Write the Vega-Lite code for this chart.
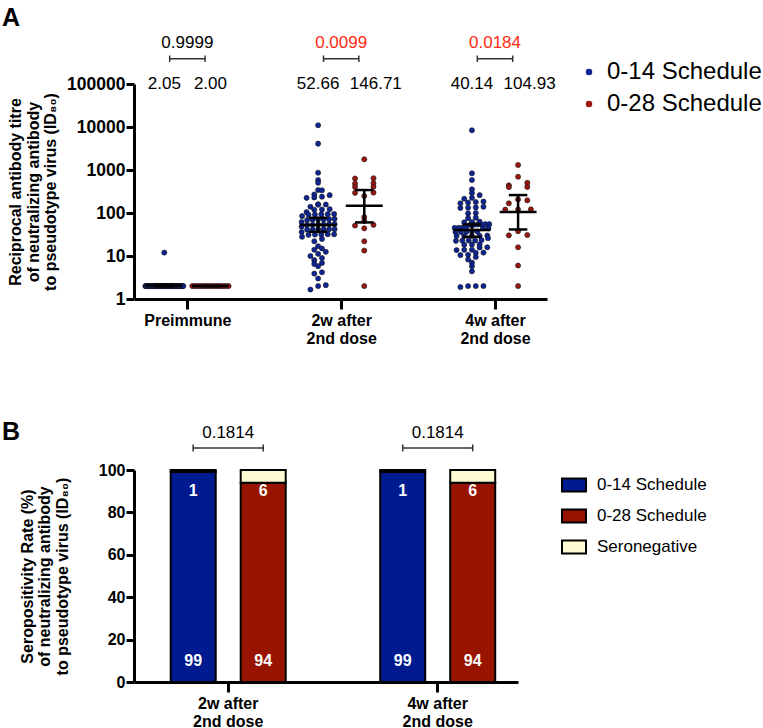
{
  "$schema": "https://vega.github.io/schema/vega-lite/v6.json",
  "padding": {"left": 2, "top": 5, "right": 0, "bottom": 0},
  "background": "white",
  "config": {
    "view": {"stroke": null},
    "font": "Liberation Sans",
    "axis": {"domainColor": "black", "domainWidth": 3, "tickColor": "black", "tickWidth": 3, "grid": false, "labelColor": "black", "labelFont": "Liberation Sans", "labelFontWeight": "bold", "titleColor": "black", "titleFont": "Liberation Sans", "titleFontWeight": "bold"},
    "legend": {"labelFont": "Liberation Sans", "labelColor": "black", "padding": 0, "labelLimit": 400}
  },
  "datasets": {
    "titres": [
      {"time": "Preimmune", "schedule": "0-14 Schedule", "titre": 12},
      {"time": "Preimmune", "schedule": "0-14 Schedule", "titre": 2},{"time": "Preimmune", "schedule": "0-14 Schedule", "titre": 2},{"time": "Preimmune", "schedule": "0-14 Schedule", "titre": 2},{"time": "Preimmune", "schedule": "0-14 Schedule", "titre": 2},{"time": "Preimmune", "schedule": "0-14 Schedule", "titre": 2},{"time": "Preimmune", "schedule": "0-14 Schedule", "titre": 2},{"time": "Preimmune", "schedule": "0-14 Schedule", "titre": 2},{"time": "Preimmune", "schedule": "0-14 Schedule", "titre": 2},{"time": "Preimmune", "schedule": "0-14 Schedule", "titre": 2},{"time": "Preimmune", "schedule": "0-14 Schedule", "titre": 2},
      {"time": "Preimmune", "schedule": "0-14 Schedule", "titre": 2},{"time": "Preimmune", "schedule": "0-14 Schedule", "titre": 2},{"time": "Preimmune", "schedule": "0-14 Schedule", "titre": 2},{"time": "Preimmune", "schedule": "0-14 Schedule", "titre": 2},{"time": "Preimmune", "schedule": "0-14 Schedule", "titre": 2},{"time": "Preimmune", "schedule": "0-14 Schedule", "titre": 2},{"time": "Preimmune", "schedule": "0-14 Schedule", "titre": 2},{"time": "Preimmune", "schedule": "0-14 Schedule", "titre": 2},{"time": "Preimmune", "schedule": "0-14 Schedule", "titre": 2},{"time": "Preimmune", "schedule": "0-14 Schedule", "titre": 2},
      {"time": "Preimmune", "schedule": "0-14 Schedule", "titre": 2},{"time": "Preimmune", "schedule": "0-14 Schedule", "titre": 2},{"time": "Preimmune", "schedule": "0-14 Schedule", "titre": 2},{"time": "Preimmune", "schedule": "0-14 Schedule", "titre": 2},{"time": "Preimmune", "schedule": "0-14 Schedule", "titre": 2},{"time": "Preimmune", "schedule": "0-14 Schedule", "titre": 2},{"time": "Preimmune", "schedule": "0-14 Schedule", "titre": 2},{"time": "Preimmune", "schedule": "0-14 Schedule", "titre": 2},{"time": "Preimmune", "schedule": "0-14 Schedule", "titre": 2},{"time": "Preimmune", "schedule": "0-14 Schedule", "titre": 2},
      {"time": "Preimmune", "schedule": "0-14 Schedule", "titre": 2},{"time": "Preimmune", "schedule": "0-14 Schedule", "titre": 2},{"time": "Preimmune", "schedule": "0-14 Schedule", "titre": 2},{"time": "Preimmune", "schedule": "0-14 Schedule", "titre": 2},{"time": "Preimmune", "schedule": "0-14 Schedule", "titre": 2},{"time": "Preimmune", "schedule": "0-14 Schedule", "titre": 2},{"time": "Preimmune", "schedule": "0-14 Schedule", "titre": 2},{"time": "Preimmune", "schedule": "0-14 Schedule", "titre": 2},{"time": "Preimmune", "schedule": "0-14 Schedule", "titre": 2},{"time": "Preimmune", "schedule": "0-14 Schedule", "titre": 2},
      {"time": "Preimmune", "schedule": "0-14 Schedule", "titre": 2},{"time": "Preimmune", "schedule": "0-14 Schedule", "titre": 2},{"time": "Preimmune", "schedule": "0-14 Schedule", "titre": 2},{"time": "Preimmune", "schedule": "0-14 Schedule", "titre": 2},{"time": "Preimmune", "schedule": "0-14 Schedule", "titre": 2},{"time": "Preimmune", "schedule": "0-14 Schedule", "titre": 2},{"time": "Preimmune", "schedule": "0-14 Schedule", "titre": 2},{"time": "Preimmune", "schedule": "0-14 Schedule", "titre": 2},{"time": "Preimmune", "schedule": "0-14 Schedule", "titre": 2},{"time": "Preimmune", "schedule": "0-14 Schedule", "titre": 2},
      {"time": "Preimmune", "schedule": "0-14 Schedule", "titre": 2},{"time": "Preimmune", "schedule": "0-14 Schedule", "titre": 2},{"time": "Preimmune", "schedule": "0-14 Schedule", "titre": 2},{"time": "Preimmune", "schedule": "0-14 Schedule", "titre": 2},{"time": "Preimmune", "schedule": "0-14 Schedule", "titre": 2},{"time": "Preimmune", "schedule": "0-14 Schedule", "titre": 2},{"time": "Preimmune", "schedule": "0-14 Schedule", "titre": 2},{"time": "Preimmune", "schedule": "0-14 Schedule", "titre": 2},{"time": "Preimmune", "schedule": "0-14 Schedule", "titre": 2},{"time": "Preimmune", "schedule": "0-14 Schedule", "titre": 2},
      {"time": "Preimmune", "schedule": "0-14 Schedule", "titre": 2},{"time": "Preimmune", "schedule": "0-14 Schedule", "titre": 2},{"time": "Preimmune", "schedule": "0-14 Schedule", "titre": 2},{"time": "Preimmune", "schedule": "0-14 Schedule", "titre": 2},{"time": "Preimmune", "schedule": "0-14 Schedule", "titre": 2},{"time": "Preimmune", "schedule": "0-14 Schedule", "titre": 2},{"time": "Preimmune", "schedule": "0-14 Schedule", "titre": 2},{"time": "Preimmune", "schedule": "0-14 Schedule", "titre": 2},{"time": "Preimmune", "schedule": "0-14 Schedule", "titre": 2},{"time": "Preimmune", "schedule": "0-14 Schedule", "titre": 2},
      {"time": "Preimmune", "schedule": "0-14 Schedule", "titre": 2},
      {"time": "Preimmune", "schedule": "0-28 Schedule", "titre": 2},{"time": "Preimmune", "schedule": "0-28 Schedule", "titre": 2},{"time": "Preimmune", "schedule": "0-28 Schedule", "titre": 2},{"time": "Preimmune", "schedule": "0-28 Schedule", "titre": 2},{"time": "Preimmune", "schedule": "0-28 Schedule", "titre": 2},{"time": "Preimmune", "schedule": "0-28 Schedule", "titre": 2},
      {"time": "Preimmune", "schedule": "0-28 Schedule", "titre": 2},{"time": "Preimmune", "schedule": "0-28 Schedule", "titre": 2},{"time": "Preimmune", "schedule": "0-28 Schedule", "titre": 2},{"time": "Preimmune", "schedule": "0-28 Schedule", "titre": 2},{"time": "Preimmune", "schedule": "0-28 Schedule", "titre": 2},{"time": "Preimmune", "schedule": "0-28 Schedule", "titre": 2},
      {"time": "Preimmune", "schedule": "0-28 Schedule", "titre": 2},{"time": "Preimmune", "schedule": "0-28 Schedule", "titre": 2},{"time": "Preimmune", "schedule": "0-28 Schedule", "titre": 2},{"time": "Preimmune", "schedule": "0-28 Schedule", "titre": 2},{"time": "Preimmune", "schedule": "0-28 Schedule", "titre": 2},{"time": "Preimmune", "schedule": "0-28 Schedule", "titre": 2},
      {"time": "2w", "schedule": "0-14 Schedule", "titre": 11000},{"time": "2w", "schedule": "0-14 Schedule", "titre": 4100},{"time": "2w", "schedule": "0-14 Schedule", "titre": 865},{"time": "2w", "schedule": "0-14 Schedule", "titre": 585},{"time": "2w", "schedule": "0-14 Schedule", "titre": 505},{"time": "2w", "schedule": "0-14 Schedule", "titre": 342},{"time": "2w", "schedule": "0-14 Schedule", "titre": 338},{"time": "2w", "schedule": "0-14 Schedule", "titre": 270},{"time": "2w", "schedule": "0-14 Schedule", "titre": 260},{"time": "2w", "schedule": "0-14 Schedule", "titre": 240},{"time": "2w", "schedule": "0-14 Schedule", "titre": 230},{"time": "2w", "schedule": "0-14 Schedule", "titre": 225},
      {"time": "2w", "schedule": "0-14 Schedule", "titre": 160},{"time": "2w", "schedule": "0-14 Schedule", "titre": 158},{"time": "2w", "schedule": "0-14 Schedule", "titre": 156},{"time": "2w", "schedule": "0-14 Schedule", "titre": 140},{"time": "2w", "schedule": "0-14 Schedule", "titre": 123},{"time": "2w", "schedule": "0-14 Schedule", "titre": 121},{"time": "2w", "schedule": "0-14 Schedule", "titre": 119},{"time": "2w", "schedule": "0-14 Schedule", "titre": 105},{"time": "2w", "schedule": "0-14 Schedule", "titre": 95},{"time": "2w", "schedule": "0-14 Schedule", "titre": 94},{"time": "2w", "schedule": "0-14 Schedule", "titre": 93},{"time": "2w", "schedule": "0-14 Schedule", "titre": 92},{"time": "2w", "schedule": "0-14 Schedule", "titre": 91},{"time": "2w", "schedule": "0-14 Schedule", "titre": 85},
      {"time": "2w", "schedule": "0-14 Schedule", "titre": 73},{"time": "2w", "schedule": "0-14 Schedule", "titre": 72},{"time": "2w", "schedule": "0-14 Schedule", "titre": 71},{"time": "2w", "schedule": "0-14 Schedule", "titre": 71},{"time": "2w", "schedule": "0-14 Schedule", "titre": 70},{"time": "2w", "schedule": "0-14 Schedule", "titre": 69},{"time": "2w", "schedule": "0-14 Schedule", "titre": 62},
      {"time": "2w", "schedule": "0-14 Schedule", "titre": 55},{"time": "2w", "schedule": "0-14 Schedule", "titre": 55},{"time": "2w", "schedule": "0-14 Schedule", "titre": 54},{"time": "2w", "schedule": "0-14 Schedule", "titre": 54},{"time": "2w", "schedule": "0-14 Schedule", "titre": 53},{"time": "2w", "schedule": "0-14 Schedule", "titre": 53},{"time": "2w", "schedule": "0-14 Schedule", "titre": 48},
      {"time": "2w", "schedule": "0-14 Schedule", "titre": 42},{"time": "2w", "schedule": "0-14 Schedule", "titre": 42},{"time": "2w", "schedule": "0-14 Schedule", "titre": 41.5},{"time": "2w", "schedule": "0-14 Schedule", "titre": 41.5},{"time": "2w", "schedule": "0-14 Schedule", "titre": 41},{"time": "2w", "schedule": "0-14 Schedule", "titre": 41},{"time": "2w", "schedule": "0-14 Schedule", "titre": 36},
      {"time": "2w", "schedule": "0-14 Schedule", "titre": 32},{"time": "2w", "schedule": "0-14 Schedule", "titre": 32},{"time": "2w", "schedule": "0-14 Schedule", "titre": 31.7},{"time": "2w", "schedule": "0-14 Schedule", "titre": 31.5},{"time": "2w", "schedule": "0-14 Schedule", "titre": 31},{"time": "2w", "schedule": "0-14 Schedule", "titre": 28},{"time": "2w", "schedule": "0-14 Schedule", "titre": 25},{"time": "2w", "schedule": "0-14 Schedule", "titre": 22},
      {"time": "2w", "schedule": "0-14 Schedule", "titre": 16.9},{"time": "2w", "schedule": "0-14 Schedule", "titre": 15},{"time": "2w", "schedule": "0-14 Schedule", "titre": 14},{"time": "2w", "schedule": "0-14 Schedule", "titre": 12.5},{"time": "2w", "schedule": "0-14 Schedule", "titre": 11.2},{"time": "2w", "schedule": "0-14 Schedule", "titre": 10},{"time": "2w", "schedule": "0-14 Schedule", "titre": 9},{"time": "2w", "schedule": "0-14 Schedule", "titre": 8},{"time": "2w", "schedule": "0-14 Schedule", "titre": 6.9},{"time": "2w", "schedule": "0-14 Schedule", "titre": 6.5},{"time": "2w", "schedule": "0-14 Schedule", "titre": 5.8},{"time": "2w", "schedule": "0-14 Schedule", "titre": 4.2},{"time": "2w", "schedule": "0-14 Schedule", "titre": 3.9},{"time": "2w", "schedule": "0-14 Schedule", "titre": 3},{"time": "2w", "schedule": "0-14 Schedule", "titre": 2.1},{"time": "2w", "schedule": "0-14 Schedule", "titre": 2},{"time": "2w", "schedule": "0-14 Schedule", "titre": 1.66},
      {"time": "2w", "schedule": "0-28 Schedule", "titre": 1775},{"time": "2w", "schedule": "0-28 Schedule", "titre": 645},{"time": "2w", "schedule": "0-28 Schedule", "titre": 635},{"time": "2w", "schedule": "0-28 Schedule", "titre": 495},{"time": "2w", "schedule": "0-28 Schedule", "titre": 485},{"time": "2w", "schedule": "0-28 Schedule", "titre": 410},{"time": "2w", "schedule": "0-28 Schedule", "titre": 405},{"time": "2w", "schedule": "0-28 Schedule", "titre": 298},{"time": "2w", "schedule": "0-28 Schedule", "titre": 294},
      {"time": "2w", "schedule": "0-28 Schedule", "titre": 248},{"time": "2w", "schedule": "0-28 Schedule", "titre": 80},{"time": "2w", "schedule": "0-28 Schedule", "titre": 65},{"time": "2w", "schedule": "0-28 Schedule", "titre": 53},{"time": "2w", "schedule": "0-28 Schedule", "titre": 51},{"time": "2w", "schedule": "0-28 Schedule", "titre": 44},{"time": "2w", "schedule": "0-28 Schedule", "titre": 22},{"time": "2w", "schedule": "0-28 Schedule", "titre": 13.4},{"time": "2w", "schedule": "0-28 Schedule", "titre": 2},
      {"time": "4w", "schedule": "0-14 Schedule", "titre": 8400},{"time": "4w", "schedule": "0-14 Schedule", "titre": 838},{"time": "4w", "schedule": "0-14 Schedule", "titre": 585},{"time": "4w", "schedule": "0-14 Schedule", "titre": 355},{"time": "4w", "schedule": "0-14 Schedule", "titre": 290},{"time": "4w", "schedule": "0-14 Schedule", "titre": 260},{"time": "4w", "schedule": "0-14 Schedule", "titre": 225},{"time": "4w", "schedule": "0-14 Schedule", "titre": 215},{"time": "4w", "schedule": "0-14 Schedule", "titre": 185},{"time": "4w", "schedule": "0-14 Schedule", "titre": 180},{"time": "4w", "schedule": "0-14 Schedule", "titre": 175},{"time": "4w", "schedule": "0-14 Schedule", "titre": 140},{"time": "4w", "schedule": "0-14 Schedule", "titre": 135},
      {"time": "4w", "schedule": "0-14 Schedule", "titre": 168},{"time": "4w", "schedule": "0-14 Schedule", "titre": 133},{"time": "4w", "schedule": "0-14 Schedule", "titre": 131},{"time": "4w", "schedule": "0-14 Schedule", "titre": 100},{"time": "4w", "schedule": "0-14 Schedule", "titre": 98},{"time": "4w", "schedule": "0-14 Schedule", "titre": 78},{"time": "4w", "schedule": "0-14 Schedule", "titre": 76},{"time": "4w", "schedule": "0-14 Schedule", "titre": 63},{"time": "4w", "schedule": "0-14 Schedule", "titre": 62},{"time": "4w", "schedule": "0-14 Schedule", "titre": 61},
      {"time": "4w", "schedule": "0-14 Schedule", "titre": 55},{"time": "4w", "schedule": "0-14 Schedule", "titre": 55},{"time": "4w", "schedule": "0-14 Schedule", "titre": 54},{"time": "4w", "schedule": "0-14 Schedule", "titre": 54},{"time": "4w", "schedule": "0-14 Schedule", "titre": 53},{"time": "4w", "schedule": "0-14 Schedule", "titre": 53},
      {"time": "4w", "schedule": "0-14 Schedule", "titre": 46},{"time": "4w", "schedule": "0-14 Schedule", "titre": 46},{"time": "4w", "schedule": "0-14 Schedule", "titre": 45},{"time": "4w", "schedule": "0-14 Schedule", "titre": 45},{"time": "4w", "schedule": "0-14 Schedule", "titre": 44},{"time": "4w", "schedule": "0-14 Schedule", "titre": 44},
      {"time": "4w", "schedule": "0-14 Schedule", "titre": 37},{"time": "4w", "schedule": "0-14 Schedule", "titre": 37},{"time": "4w", "schedule": "0-14 Schedule", "titre": 36.5},{"time": "4w", "schedule": "0-14 Schedule", "titre": 36},{"time": "4w", "schedule": "0-14 Schedule", "titre": 36},
      {"time": "4w", "schedule": "0-14 Schedule", "titre": 30},{"time": "4w", "schedule": "0-14 Schedule", "titre": 29.5},{"time": "4w", "schedule": "0-14 Schedule", "titre": 29.4},{"time": "4w", "schedule": "0-14 Schedule", "titre": 29},{"time": "4w", "schedule": "0-14 Schedule", "titre": 29},{"time": "4w", "schedule": "0-14 Schedule", "titre": 26},
      {"time": "4w", "schedule": "0-14 Schedule", "titre": 23.5},{"time": "4w", "schedule": "0-14 Schedule", "titre": 23},{"time": "4w", "schedule": "0-14 Schedule", "titre": 23},{"time": "4w", "schedule": "0-14 Schedule", "titre": 22.8},{"time": "4w", "schedule": "0-14 Schedule", "titre": 22.5},
      {"time": "4w", "schedule": "0-14 Schedule", "titre": 18.8},{"time": "4w", "schedule": "0-14 Schedule", "titre": 18.5},{"time": "4w", "schedule": "0-14 Schedule", "titre": 18.2},{"time": "4w", "schedule": "0-14 Schedule", "titre": 16},{"time": "4w", "schedule": "0-14 Schedule", "titre": 15.8},
      {"time": "4w", "schedule": "0-14 Schedule", "titre": 14},{"time": "4w", "schedule": "0-14 Schedule", "titre": 13.9},{"time": "4w", "schedule": "0-14 Schedule", "titre": 13.7},{"time": "4w", "schedule": "0-14 Schedule", "titre": 12},{"time": "4w", "schedule": "0-14 Schedule", "titre": 11.9},{"time": "4w", "schedule": "0-14 Schedule", "titre": 10.7},{"time": "4w", "schedule": "0-14 Schedule", "titre": 10.5},{"time": "4w", "schedule": "0-14 Schedule", "titre": 9.5},
      {"time": "4w", "schedule": "0-14 Schedule", "titre": 8.3},{"time": "4w", "schedule": "0-14 Schedule", "titre": 7},{"time": "4w", "schedule": "0-14 Schedule", "titre": 5.8},{"time": "4w", "schedule": "0-14 Schedule", "titre": 4.4},{"time": "4w", "schedule": "0-14 Schedule", "titre": 2},{"time": "4w", "schedule": "0-14 Schedule", "titre": 2},{"time": "4w", "schedule": "0-14 Schedule", "titre": 2},{"time": "4w", "schedule": "0-14 Schedule", "titre": 1.9},
      {"time": "4w", "schedule": "0-28 Schedule", "titre": 1308},{"time": "4w", "schedule": "0-28 Schedule", "titre": 698},{"time": "4w", "schedule": "0-28 Schedule", "titre": 505},{"time": "4w", "schedule": "0-28 Schedule", "titre": 440},{"time": "4w", "schedule": "0-28 Schedule", "titre": 405},{"time": "4w", "schedule": "0-28 Schedule", "titre": 400},{"time": "4w", "schedule": "0-28 Schedule", "titre": 207},{"time": "4w", "schedule": "0-28 Schedule", "titre": 197},{"time": "4w", "schedule": "0-28 Schedule", "titre": 168},
      {"time": "4w", "schedule": "0-28 Schedule", "titre": 122},{"time": "4w", "schedule": "0-28 Schedule", "titre": 121},{"time": "4w", "schedule": "0-28 Schedule", "titre": 120},{"time": "4w", "schedule": "0-28 Schedule", "titre": 37.8},{"time": "4w", "schedule": "0-28 Schedule", "titre": 30.8},{"time": "4w", "schedule": "0-28 Schedule", "titre": 30.2},{"time": "4w", "schedule": "0-28 Schedule", "titre": 16},{"time": "4w", "schedule": "0-28 Schedule", "titre": 6},{"time": "4w", "schedule": "0-28 Schedule", "titre": 2}
    ],
    "gmt": [
      {"time": "Preimmune", "schedule": "0-14 Schedule", "gmt": 2.05, "lo": 1.97, "hi": 2.14},
      {"time": "Preimmune", "schedule": "0-28 Schedule", "gmt": 2.0, "lo": 2.0, "hi": 2.0},
      {"time": "2w", "schedule": "0-14 Schedule", "gmt": 52.66, "lo": 36.5, "hi": 77},
      {"time": "2w", "schedule": "0-28 Schedule", "gmt": 146.71, "lo": 60.4, "hi": 342},
      {"time": "4w", "schedule": "0-14 Schedule", "gmt": 40.14, "lo": 27.9, "hi": 54.2},
      {"time": "4w", "schedule": "0-28 Schedule", "gmt": 104.93, "lo": 41.4, "hi": 261}
    ],
    "pvals": [
      {"time": "Preimmune", "p": 0.9999},
      {"time": "2w", "p": 0.0099},
      {"time": "4w", "p": 0.0184}
    ],
    "bars": [
      {"time": "2w", "schedule": "0-14", "group": "0-14 Schedule", "pct": 99},
      {"time": "2w", "schedule": "0-14", "group": "Seronegative", "pct": 1},
      {"time": "2w", "schedule": "0-28", "group": "0-28 Schedule", "pct": 94},
      {"time": "2w", "schedule": "0-28", "group": "Seronegative", "pct": 6},
      {"time": "4w", "schedule": "0-14", "group": "0-14 Schedule", "pct": 99},
      {"time": "4w", "schedule": "0-14", "group": "Seronegative", "pct": 1},
      {"time": "4w", "schedule": "0-28", "group": "0-28 Schedule", "pct": 94},
      {"time": "4w", "schedule": "0-28", "group": "Seronegative", "pct": 6}
    ],
    "barp": [
      {"time": "2w", "p": 0.1814},
      {"time": "4w", "p": 0.1814}
    ]
  },
  "vconcat": [
    {
      "width": 413,
      "height": 215,
      "title": {"text": "A", "anchor": "start", "frame": "group", "fontSize": 25, "fontWeight": "bold", "font": "Liberation Sans", "color": "black", "dx": -132, "dy": 25, "baseline": "bottom", "offset": 3},
      "layer": [
        {
          "data": {"name": "titres"},
          "transform": [
            {"calculate": "indexof(['Preimmune','2w','4w'], datum.time)", "as": "t"},
            {"calculate": "floor(log(datum.titre)/LN10/0.11)", "as": "bin"},
            {"window": [{"op": "row_number", "as": "k"}], "groupby": ["time", "schedule", "bin"], "sort": [{"field": "titre", "order": "ascending"}]},
            {"joinaggregate": [{"op": "count", "as": "n"}], "groupby": ["time", "schedule", "bin"]},
            {"calculate": "datum.t + (datum.schedule == '0-14 Schedule' ? -0.15 : 0.15) + (datum.k - (datum.n + 1) / 2) * min(datum.schedule == '0-28 Schedule' ? 0.12 : 0.05, 0.25 / datum.n)", "as": "xpos"}
          ],
          "mark": {"type": "point", "filled": true, "shape": "circle", "size": 26, "stroke": "#161616", "strokeWidth": 0.6, "opacity": 1},
          "encoding": {
            "x": {"field": "xpos", "type": "quantitative", "scale": {"domain": [-0.347, 2.338], "nice": false, "zero": false},
              "axis": {"title": null, "values": [0, 1, 2], "labelExpr": "datum.value == 0 ? 'Preimmune' : datum.value == 1 ? ['2w after', '2nd dose'] : ['4w after', '2nd dose']", "labelFontSize": 16, "labelLineHeight": 18, "tickSize": 10, "labelPadding": 3}},
            "y": {"field": "titre", "type": "quantitative", "scale": {"type": "log", "domain": [1, 100000], "nice": false},
              "axis": {"title": ["Reciprocal antibody titre", "of neutralizing antibody", "to pseudotype virus (ID₈₀)"], "titleFontSize": 16, "titleLineHeight": 17.5, "titlePadding": 8, "values": [1, 10, 100, 1000, 10000, 100000], "format": "d", "labelFontSize": 17.5, "tickSize": 8, "labelPadding": 1}},
            "color": {"field": "schedule", "type": "nominal", "scale": {"domain": ["0-14 Schedule", "0-28 Schedule"], "range": ["#0e2596", "#9c1610"]},
              "legend": {"orient": "none", "legendX": 443, "legendY": -24, "title": null, "labelFontSize": 24, "symbolType": "circle", "symbolSize": 42, "symbolStrokeWidth": 0, "rowPadding": 8, "labelOffset": 6}}
          }
        },
        {
          "data": {"name": "gmt"},
          "transform": [
            {"calculate": "indexof(['Preimmune','2w','4w'], datum.time) + (datum.schedule == '0-14 Schedule' ? -0.15 : 0.15)", "as": "xc"},
            {"calculate": "datum.xc - 0.12", "as": "xl"},
            {"calculate": "datum.xc + 0.12", "as": "xr"}
          ],
          "mark": {"type": "rule", "color": "black", "strokeWidth": 2.5},
          "encoding": {
            "x": {"field": "xl", "type": "quantitative"},
            "x2": {"field": "xr"},
            "y": {"field": "gmt", "type": "quantitative"}
          }
        },
        {
          "data": {"name": "gmt"},
          "transform": [
            {"calculate": "indexof(['Preimmune','2w','4w'], datum.time) + (datum.schedule == '0-14 Schedule' ? -0.15 : 0.15)", "as": "xc"}
          ],
          "mark": {"type": "rule", "color": "black", "strokeWidth": 2.5},
          "encoding": {
            "x": {"field": "xc", "type": "quantitative"},
            "y": {"field": "lo", "type": "quantitative"},
            "y2": {"field": "hi"}
          }
        },
        {
          "data": {"name": "gmt"},
          "transform": [
            {"calculate": "indexof(['Preimmune','2w','4w'], datum.time) + (datum.schedule == '0-14 Schedule' ? -0.15 : 0.15)", "as": "xc"},
            {"calculate": "datum.xc - 0.06", "as": "cl"},
            {"calculate": "datum.xc + 0.06", "as": "cr"}
          ],
          "mark": {"type": "rule", "color": "black", "strokeWidth": 2.5},
          "encoding": {
            "x": {"field": "cl", "type": "quantitative"},
            "x2": {"field": "cr"},
            "y": {"field": "lo", "type": "quantitative"}
          }
        },
        {
          "data": {"name": "gmt"},
          "transform": [
            {"calculate": "indexof(['Preimmune','2w','4w'], datum.time) + (datum.schedule == '0-14 Schedule' ? -0.15 : 0.15)", "as": "xc"},
            {"calculate": "datum.xc - 0.06", "as": "cl"},
            {"calculate": "datum.xc + 0.06", "as": "cr"}
          ],
          "mark": {"type": "rule", "color": "black", "strokeWidth": 2.5},
          "encoding": {
            "x": {"field": "cl", "type": "quantitative"},
            "x2": {"field": "cr"},
            "y": {"field": "hi", "type": "quantitative"}
          }
        },
        {
          "data": {"name": "gmt"},
          "transform": [
            {"calculate": "indexof(['Preimmune','2w','4w'], datum.time) + (datum.schedule == '0-14 Schedule' ? -0.15 : (datum.gmt > 100 ? 0.225 : 0.15))", "as": "xt"}
          ],
          "mark": {"type": "text", "fontSize": 17, "font": "Liberation Sans", "color": "black", "baseline": "middle"},
          "encoding": {
            "x": {"field": "xt", "type": "quantitative"},
            "y": {"datum": 100000},
            "text": {"field": "gmt", "type": "quantitative", "format": ".2f"}
          }
        },
        {
          "data": {"name": "pvals"},
          "transform": [
            {"calculate": "indexof(['Preimmune','2w','4w'], datum.time)", "as": "t"},
            {"calculate": "datum.t - 0.115", "as": "bl"},
            {"calculate": "datum.t + 0.115", "as": "br"}
          ],
          "mark": {"type": "rule", "color": "#333333", "strokeWidth": 1.5},
          "encoding": {
            "x": {"field": "bl", "type": "quantitative"},
            "x2": {"field": "br"},
            "y": {"datum": 387000}
          }
        },
        {
          "data": {"name": "pvals"},
          "transform": [
            {"calculate": "indexof(['Preimmune','2w','4w'], datum.time) - 0.115", "as": "bl"}
          ],
          "mark": {"type": "rule", "color": "#333333", "strokeWidth": 1.5},
          "encoding": {
            "x": {"field": "bl", "type": "quantitative"},
            "y": {"datum": 325000},
            "y2": {"datum": 460000}
          }
        },
        {
          "data": {"name": "pvals"},
          "transform": [
            {"calculate": "indexof(['Preimmune','2w','4w'], datum.time) + 0.115", "as": "br"}
          ],
          "mark": {"type": "rule", "color": "#333333", "strokeWidth": 1.5},
          "encoding": {
            "x": {"field": "br", "type": "quantitative"},
            "y": {"datum": 325000},
            "y2": {"datum": 460000}
          }
        },
        {
          "data": {"name": "pvals"},
          "transform": [
            {"calculate": "indexof(['Preimmune','2w','4w'], datum.time)", "as": "t"}
          ],
          "mark": {"type": "text", "fontSize": 17, "font": "Liberation Sans", "baseline": "middle"},
          "encoding": {
            "x": {"field": "t", "type": "quantitative"},
            "y": {"datum": 912000},
            "text": {"field": "p", "type": "quantitative", "format": ".4f"},
            "color": {"condition": {"test": "datum.p < 0.05", "value": "#ff2a12"}, "value": "black"}
          }
        }
      ]
    },
    {
      "width": 384,
      "height": 212,
      "title": {"text": "B", "anchor": "start", "frame": "group", "fontSize": 25, "fontWeight": "bold", "font": "Liberation Sans", "color": "black", "dx": -132, "dy": 46, "baseline": "bottom", "offset": 0},
      "layer": [
        {
          "data": {"name": "bars"},
          "transform": [
            {"calculate": "datum.group == 'Seronegative' ? 1 : 0", "as": "ord"}
          ],
          "mark": {"type": "bar", "stroke": "black", "strokeWidth": 2},
          "encoding": {
            "x": {"field": "time", "type": "nominal", "scale": {"domain": ["2w", "4w"], "paddingInner": 0.451, "paddingOuter": 0.142, "align": 0.617},
              "axis": {"title": null, "labelAngle": 0, "labelExpr": "datum.value == '2w' ? ['2w after', '2nd dose'] : ['4w after', '2nd dose']", "labelFontSize": 16, "labelLineHeight": 18, "tickSize": 10, "labelPadding": 3}},
            "xOffset": {"field": "schedule", "type": "nominal", "scale": {"paddingInner": 0.357, "paddingOuter": 0}},
            "y": {"field": "pct", "type": "quantitative", "stack": "zero", "scale": {"domain": [0, 100], "nice": false},
              "axis": {"title": ["Seropositivity Rate (%)", "of neutralizing antibody", "to pseudotype virus (ID₈₀)"], "titleFontSize": 16, "titleLineHeight": 17.5, "titlePadding": 28, "values": [0, 20, 40, 60, 80, 100], "labelFontSize": 16, "tickSize": 8, "labelPadding": 1}},
            "color": {"field": "group", "type": "nominal", "scale": {"domain": ["0-14 Schedule", "0-28 Schedule", "Seronegative"], "range": ["#001a8f", "#991400", "#fcfbd2"]},
              "legend": {"orient": "none", "legendX": 427, "legendY": 2, "title": null, "labelFontSize": 17, "symbolType": "M-1,-0.55H1V0.55H-1Z", "symbolSize": 576, "symbolStrokeColor": "black", "symbolStrokeWidth": 2, "symbolOpacity": 1, "rowPadding": 7, "labelOffset": 10}},
            "order": {"field": "ord", "type": "quantitative"}
          }
        },
        {
          "data": {"name": "bars"},
          "transform": [{"filter": "datum.group != 'Seronegative'"}],
          "mark": {"type": "text", "fontSize": 16, "fontWeight": "bold", "font": "Liberation Sans", "color": "white", "baseline": "middle"},
          "encoding": {
            "x": {"field": "time", "type": "nominal"},
            "xOffset": {"field": "schedule", "type": "nominal"},
            "y": {"datum": 10},
            "text": {"field": "pct", "type": "quantitative"}
          }
        },
        {
          "data": {"name": "bars"},
          "transform": [{"filter": "datum.group == 'Seronegative'"}],
          "mark": {"type": "text", "fontSize": 16, "fontWeight": "bold", "font": "Liberation Sans", "color": "white", "baseline": "middle"},
          "encoding": {
            "x": {"field": "time", "type": "nominal"},
            "xOffset": {"field": "schedule", "type": "nominal"},
            "y": {"datum": 90},
            "text": {"field": "pct", "type": "quantitative"}
          }
        },
        {
          "data": {"name": "barp"},
          "mark": {"type": "tick", "orient": "horizontal", "size": 71, "thickness": 1.5, "color": "#333333", "opacity": 1},
          "encoding": {
            "x": {"field": "time", "type": "nominal"},
            "y": {"datum": 110.4}
          }
        },
        {
          "data": {"name": "bars"},
          "transform": [{"filter": "datum.group != 'Seronegative'"}],
          "mark": {"type": "tick", "orient": "vertical", "size": 7, "thickness": 1.5, "color": "#333333", "opacity": 1},
          "encoding": {
            "x": {"field": "time", "type": "nominal"},
            "xOffset": {"field": "schedule", "type": "nominal"},
            "y": {"datum": 110.4}
          }
        },
        {
          "data": {"name": "barp"},
          "mark": {"type": "text", "fontSize": 17, "font": "Liberation Sans", "color": "black", "baseline": "middle"},
          "encoding": {
            "x": {"field": "time", "type": "nominal"},
            "y": {"datum": 117.5},
            "text": {"field": "p", "type": "quantitative", "format": ".4f"}
          }
        }
      ]
    }
  ],
  "spacing": 171,
  "bounds": "flush",
  "resolve": {"scale": {"color": "independent"}, "legend": {"color": "independent"}}
}
